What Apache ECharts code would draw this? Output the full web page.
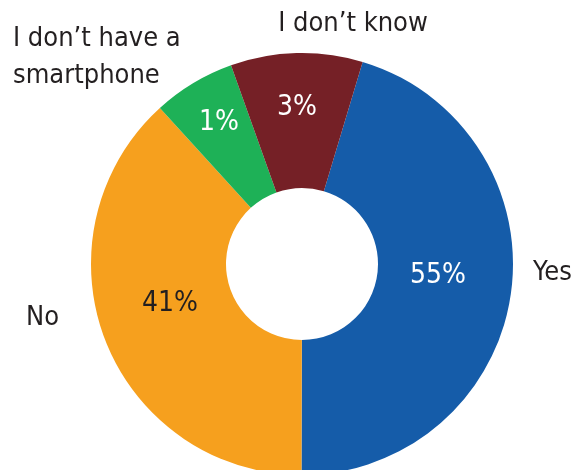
<!DOCTYPE html>
<html>
<head>
<meta charset="utf-8">
<script src="https://cdn.jsdelivr.net/npm/echarts@6/dist/echarts.min.js"></script>
<style>
  html, body { margin: 0; padding: 0; background: #ffffff; }
  #chart { width: 576px; height: 470px; }
</style>
</head>
<body>
<div id="chart"></div>
<script>
// ---- data ----
const categories = ['Yes', 'No', 'I don’t have a\nsmartphone', 'I don’t know'];
// printed percentages on the slices
const percentLabels = ['55%', '41%', '1%', '3%'];
// share of the ring each slice occupies as drawn in the picture (%)
const sliceShares = [45.4, 38.2, 6.3, 10.1];
const colors = ['#155CA9', '#F6A01E', '#1EB157', '#752026'];

// ---- layout (kept separate from data) ----
const pctPos = [[438, 276], [170, 304], [219, 123], [297, 108]];
const namePos = [
  { x: 533, y: 272.5, align: 'left' },
  { x: 26, y: 317.5, align: 'left' },
  { x: 13, y: 57.5, align: 'left' },
  { x: 353, y: 24, align: 'center' }
];
const pctColors = ['#ffffff', '#231F20', '#ffffff', '#ffffff'];
const FONT = "'DejaVu Sans Condensed', 'DejaVu Sans', sans-serif";

const seriesData = categories.map((c, i) => ({
  name: c,
  value: sliceShares[i],
  itemStyle: { color: colors[i] },
  label: { color: pctColors[i] }
}));

const chart = echarts.init(document.getElementById('chart'), null, { renderer: 'canvas' });
chart.setOption({
  animation: false,
  backgroundColor: '#ffffff',
  series: [
    {
      type: 'pie',
      center: [302, 264],
      radius: [76, 211],
      startAngle: 73.3,
      clockwise: true,
      silent: true,
      itemStyle: { borderWidth: 0 },
      emphasis: { disabled: true },
      label: {
        show: true,
        position: 'inside',
        fontFamily: FONT,
        fontSize: 28,
        overflow: 'none',
        formatter: p => percentLabels[p.dataIndex]
      },
      labelLine: { show: false },
      labelLayout: p => ({
        x: pctPos[p.dataIndex][0],
        y: pctPos[p.dataIndex][1],
        align: 'center',
        verticalAlign: 'middle',
        hideOverlap: false
      }),
      data: seriesData
    },
    {
      type: 'pie',
      center: [302, 264],
      radius: [76, 211],
      startAngle: 73.3,
      clockwise: true,
      silent: true,
      emphasis: { disabled: true },
      itemStyle: { color: 'rgba(0,0,0,0)', borderWidth: 0 },
      label: {
        show: true,
        position: 'inside',
        fontFamily: FONT,
        fontSize: 27,
        lineHeight: 37,
        overflow: 'none',
        color: '#231F20',
        formatter: '{b}'
      },
      labelLine: { show: false },
      labelLayout: p => ({
        x: namePos[p.dataIndex].x,
        y: namePos[p.dataIndex].y,
        align: namePos[p.dataIndex].align,
        verticalAlign: 'middle',
        hideOverlap: false
      }),
      data: categories.map((c, i) => ({ name: c, value: sliceShares[i] }))
    }
  ]
});
</script>
</body>
</html>
